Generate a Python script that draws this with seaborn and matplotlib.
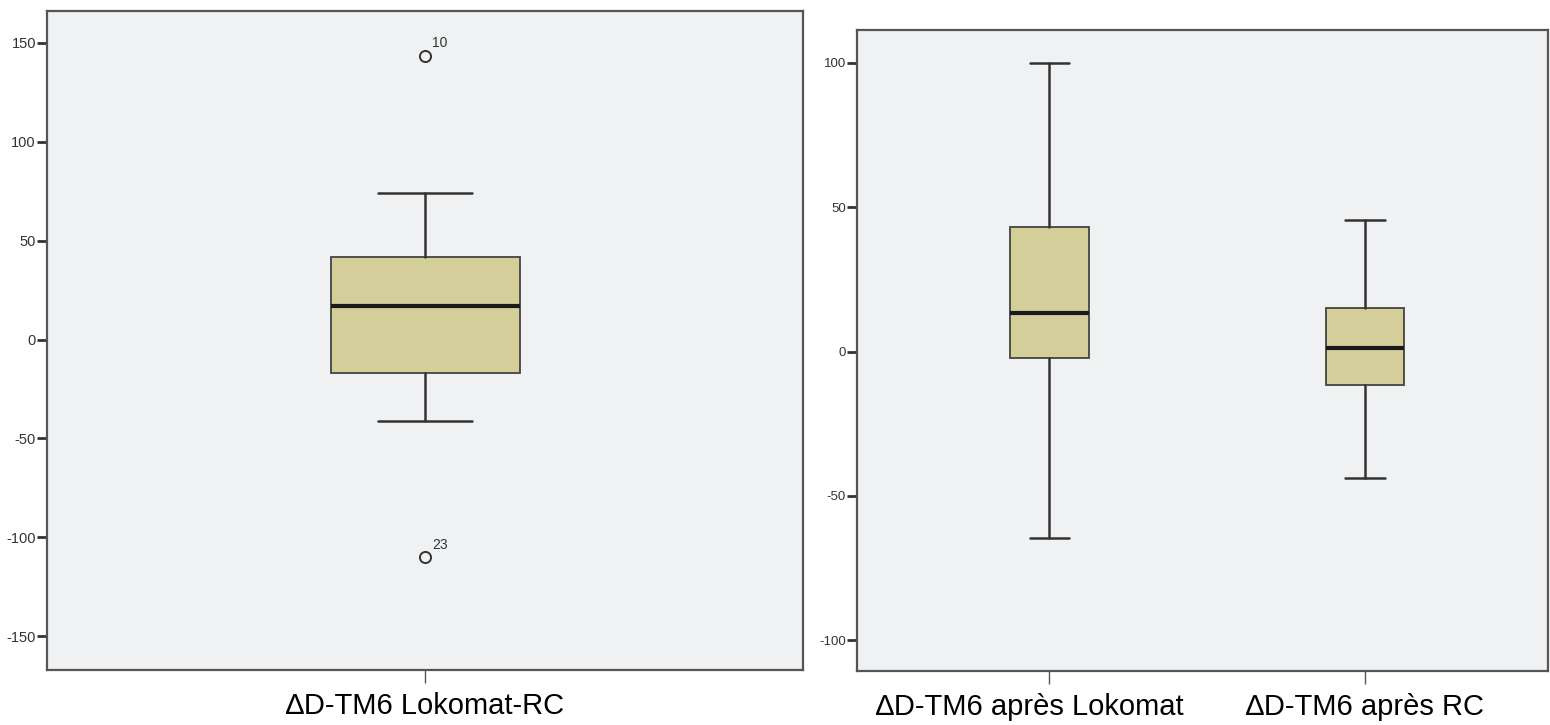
import matplotlib
matplotlib.use("Agg")
import matplotlib.pyplot as plt
import matplotlib.transforms as mtransforms
import seaborn as sns

# valeurs (boxplots type SPSS)
gauche_labels = ["∆D-TM6 Lokomat-RC"]
gauche_q1 = [-16.7]
gauche_med = [16.7]
gauche_q3 = [41.5]
gauche_bas = [-41]
gauche_haut = [74]
gauche_outliers = [[143.5, -110]]
gauche_outlier_ids = [["10", "23"]]

droite_labels = ["∆D-TM6 après Lokomat", "∆D-TM6 après RC"]
droite_q1 = [-2.3, -11.6]
droite_med = [13.5, 1.2]
droite_q3 = [43.2, 15]
droite_bas = [-64.6, -43.7]
droite_haut = [100, 45.5]

COULEUR_BOITE = "#D3CE9A"
COULEUR_FOND = "#F0F1F3"
COULEUR_TRAIT = "#333333"

sns.set_style("white")
plt.rcParams["font.family"] = ["Liberation Sans", "DejaVu Sans"]
plt.rcParams["axes.unicode_minus"] = False


def faire_stats(labels, q1, med, q3, bas, haut, outliers=None):
    stats = []
    for i, lab in enumerate(labels):
        stats.append(
            {
                "label": lab,
                "q1": q1[i],
                "med": med[i],
                "q3": q3[i],
                "whislo": bas[i],
                "whishi": haut[i],
                "fliers": outliers[i] if outliers else [],
            }
        )
    return stats


def dessiner(ax, stats, tick_size):
    ax.set_facecolor(COULEUR_FOND)
    pos = list(range(len(stats)))
    ax.bxp(
        stats,
        positions=pos,
        widths=0.25,
        patch_artist=True,
        boxprops=dict(facecolor=COULEUR_BOITE, edgecolor="#444444", linewidth=1.3),
        medianprops=dict(color="#1a1a1a", linewidth=3),
        whiskerprops=dict(color=COULEUR_TRAIT, linewidth=1.8),
        capprops=dict(color=COULEUR_TRAIT, linewidth=1.8),
        flierprops=dict(
            marker="o",
            markerfacecolor="none",
            markeredgecolor=COULEUR_TRAIT,
            markersize=8,
            markeredgewidth=1.4,
        ),
    )
    for s in ax.spines.values():
        s.set_color("#555555")
        s.set_linewidth(1.6)
    ax.tick_params(
        axis="y", direction="out", length=7, width=2, color="#333333",
        labelsize=tick_size, labelcolor="#333333", pad=1, left=True,
    )
    ax.tick_params(
        axis="x", direction="out", length=9, width=1, color="#555555",
        labelsize=21, labelcolor="black", pad=7, bottom=True,
    )
    ax.set_xticks(pos)
    ax.set_xticklabels([s["label"] for s in stats])


fig = plt.figure(figsize=(15.5, 7.25), dpi=100)

ax1 = fig.add_axes([47 / 1550, 1 - 670 / 725, 756 / 1550, 659 / 725])
stats_g = faire_stats(gauche_labels, gauche_q1, gauche_med, gauche_q3,
                      gauche_bas, gauche_haut, gauche_outliers)
dessiner(ax1, stats_g, 10.5)
ax1.set_xlim(-0.5, 0.5)
ax1.set_ylim(-167, 166)
ax1.set_yticks([-150, -100, -50, 0, 50, 100, 150])
for i, (vals, ids) in enumerate(zip(gauche_outliers, gauche_outlier_ids)):
    for v, t in zip(vals, ids):
        ax1.annotate(t, (i, v), xytext=(5, 6), textcoords="offset points",
                     fontsize=10, color="#333333")

ax2 = fig.add_axes([857 / 1550, 1 - 671 / 725, 691 / 1550, 641 / 725])
stats_d = faire_stats(droite_labels, droite_q1, droite_med, droite_q3,
                      droite_bas, droite_haut)
dessiner(ax2, stats_d, 9.5)
ax2.set_xlim(-0.61, 1.58)
ax2.set_ylim(-110.7, 111.4)
ax2.set_yticks([-100, -50, 0, 50, 100])

# dans l'original, la première étiquette est légèrement décalée à gauche
lab0 = ax2.get_xticklabels()[0]
lab0.set_transform(lab0.get_transform() + mtransforms.ScaledTranslation(
    -0.2, 0, fig.dpi_scale_trans))

fig.savefig("out.png", dpi=100)
